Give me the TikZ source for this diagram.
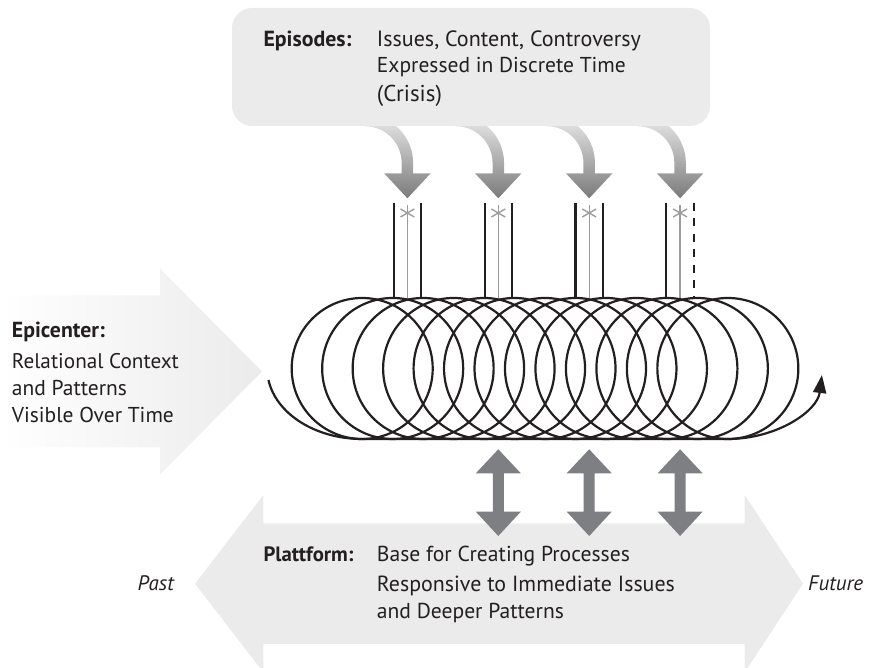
\documentclass[tikz,border=0pt]{standalone}
\usepackage{fontspec}
\usepackage{graphicx}
\setmainfont{PT Sans}
\usetikzlibrary{arrows.meta}

\definecolor{ink}{HTML}{231F20}
\definecolor{panel}{HTML}{EBEBEB}
\definecolor{bolt}{HTML}{7E7F82}
\definecolor{thread}{HTML}{9C9C9C}
\definecolor{dropdark}{HTML}{7A7A7A}

% set a line of text to a given width
\newcommand{\fitline}[2]{\resizebox{#1}{!}{#2}}

\begin{document}
\begin{tikzpicture}[x=1pt,y=1pt,
  txt/.style={anchor=base west, inner sep=0pt, text=ink,
              font=\fontsize{21}{25}\selectfont},
  hdr/.style={txt, font=\fontsize{21}{25}\selectfont\bfseries},
  itl/.style={txt, font=\fontsize{21}{25}\selectfont\itshape},
  coilline/.style={draw=ink, line width=2.2pt},
  rail/.style={draw=ink, line width=2.1pt},
  threadline/.style={draw=thread, line width=1.4pt},
  twoway/.style={fill=bolt},
]
\useasboundingbox (0,0) rectangle (888,668);

% ---- Epicenter: wide arrow fading in from the left
\shade[left color=white, right color=panel]
  (0,220.5) -- (160,220.5) -- (160,193.5) -- (262,296.5)
  -- (160,399.5) -- (160,372.5) -- (0,372.5) -- cycle;

% ---- Plattform: double-headed band, past <-> future
\fill[panel]
  (263.3,24) -- (263.3,-4.3) -- (195,84.3) -- (263.3,173) -- (263.3,144.7)
  -- (744.7,144.7) -- (744.7,173) -- (803,84.3) -- (744.7,-4.3)
  -- (744.7,24) -- cycle;

% ---- Episodes: curved drop arrows emerging from the box
\foreach \k in {0,1,2,3}{
  \pgfmathsetmacro{\xc}{407.4+90.9*\k}
  \shade[top color=panel, bottom color=dropdark]
    (\xc-42.5,553.25) arc[start angle=90, end angle=0, radius=48.25]
    -- (\xc+5.75,494.7) -- (\xc+23.3,494.7) -- (\xc,469.7)
    -- (\xc-23.3,494.7) -- (\xc-5.75,494.7) -- (\xc-5.75,505)
    arc[start angle=0, end angle=90, radius=36.75] -- cycle;
}
\node[fill=panel, rounded corners=20pt, minimum width=478pt,
      minimum height=118pt, inner sep=0pt] (epbox) at (471,601) {};

% ---- rails above the coil, with the marked thread between them
\foreach \k in {0,1,2,3}{
  \pgfmathsetmacro{\xc}{407.4+90.9*\k}
  \coordinate (thr\k) at (\xc,455);
  \draw[threadline] (\xc,462.5) -- (\xc,370);
  \draw[threadline] (thr\k) ++(30:8) -- ++(210:16);
  \draw[threadline] (thr\k) ++(150:8) -- ++(330:16);
  \draw[rail] (\xc-13.7,465.3) -- (\xc-13.7,370);
}
\foreach \k in {0,1,2}{
  \pgfmathsetmacro{\xc}{407.4+90.9*\k}
  \draw[rail] (\xc+13.6,465.3) -- (\xc+13.6,370);
}
\draw[rail, dash pattern=on 8pt off 7.5pt] (693.9,465.3) -- (693.9,370);

% ---- the coil of overlapping loops
\foreach \i in {0,...,12}{
  \draw[coilline] (362.2+30.47*\i,299.5) circle[radius=70.5];
}
\coordinate (coilin) at (362.2,299.5);
\coordinate (coilout) at (727.8,299.5);
\draw[coilline, -{Triangle[length=18pt,width=13pt]}]
  (coilin) ++(189.4:95 and 70.5)
  arc[start angle=189.4, end angle=270, x radius=95, y radius=70.5]
  -- (727.8,229)
  arc[start angle=270, end angle=354.7, x radius=94.5, y radius=70.5];

% ---- two-way links between coil and platform
\foreach \k in {1,2,3}{
  \pgfmathsetmacro{\xc}{407.4+90.9*\k}
  \fill[twoway] (\xc,218.7) -- (\xc+22.5,194.7) -- (\xc+5.5,194.7)
    -- (\xc+5.5,156.3) -- (\xc+22.5,156.3) -- (\xc,132)
    -- (\xc-22.5,156.3) -- (\xc-5.5,156.3) -- (\xc-5.5,194.7)
    -- (\xc-22.5,194.7) -- cycle;
}

% ---- labels
\node[hdr] (ephead) at (263.3,621.3) {\fitline{88pt}{Episodes:}};
\node[txt] (ep1) at (376.7,621.3) {\fitline{264pt}{Issues, Content, Controversy}};
\node[txt] (ep2) at (376.7,595.3) {\fitline{249pt}{Expressed in Discrete Time}};
\node[txt] (ep3) at (376.7,566) {\fitline{65pt}{(Crisis)}};

\node[hdr] (echead) at (11.7,330.7) {\fitline{93pt}{Epicenter:}};
\node[txt] (ec1) at (11.7,299.7) {\fitline{167pt}{Relational Context}};
\node[txt] (ec2) at (11.7,272.3) {\fitline{115pt}{and Patterns}};
\node[txt] (ec3) at (11.7,245.3) {\fitline{162pt}{Visible Over Time}};

\node[hdr] (plhead) at (263.3,106.3) {\fitline{90pt}{Plattform:}};
\node[txt] (pl1) at (376.7,106.3) {\fitline{253pt}{Base for Creating Processes}};
\node[txt] (pl2) at (376.7,76.3) {\fitline{298pt}{Responsive to Immediate Issues}};
\node[txt] (pl3) at (376.7,49.7) {\fitline{187pt}{and Deeper Patterns}};

\node[itl] (past) at (137.3,77.3) {Past};
\node[itl] (future) at (808,77) {Future};
\end{tikzpicture}
\end{document}
